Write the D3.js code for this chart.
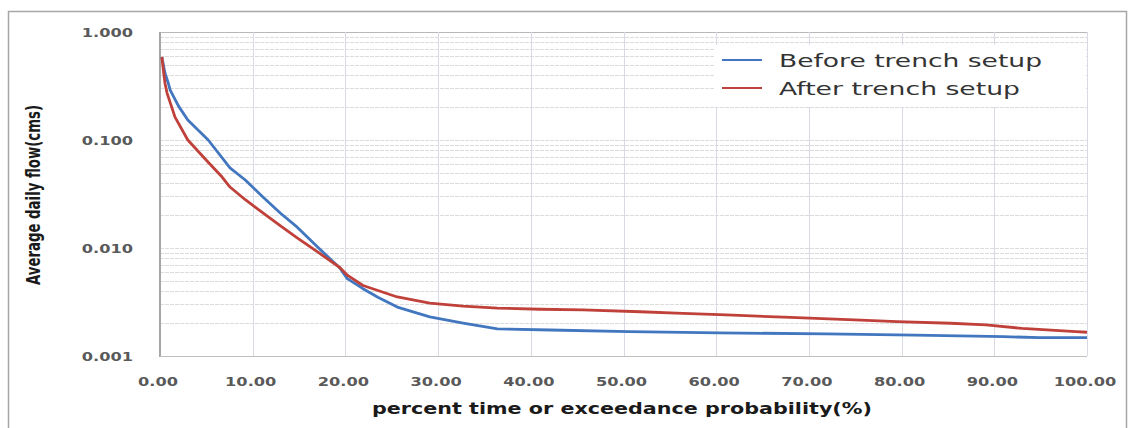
<!DOCTYPE html>
<html><head><meta charset="utf-8">
<script src="https://cdn.jsdelivr.net/npm/d3@7"></script>
<style>body{margin:0;background:#fff}svg{display:block}</style>
</head><body><svg id="c" width="1130" height="428"></svg>
<script>
const xTicks = [0,10,20,30,40,50,60,70,80,90,100];
const yTicks = [1,0.1,0.01,0.001];
const seriesNames = ["Before trench setup","After trench setup"];
const xTitle = "percent time or exceedance probability(%)";
const yTitle = "Average daily flow(cms)";

const beforeP = [0.2,0.54,0.9,1.1,2.0,3.0,5.2,7.55,9.2,11.1,13.0,14.8,17.0,19.4,20.2,21.9,23.5,25.6,29.1,32.7,36.4,42.1,50.6,60.3,71.8,81.4,91.0,94.9,100];
const beforeQ = [0.587,0.415,0.335,0.29,0.206,0.153,0.100,0.0551,0.0426,0.0297,0.021,0.0156,0.0102,0.00653,0.0052,0.0042,0.0035,0.00284,0.0023,0.00202,0.00178,0.00174,0.00168,0.00164,0.0016,0.00156,0.00151,0.00148,0.00148];
const afterP = [0.2,0.36,0.54,0.76,1.62,3.0,5.0,6.7,7.55,9.2,11.1,13.0,14.8,17.0,19.4,20.2,21.9,25.6,29.1,32.7,36.4,41.0,45.6,51.8,56.4,61.1,68.0,75.6,79.5,85.3,89.1,93.0,98.8,100];
const afterQ = [0.587,0.445,0.335,0.272,0.163,0.100,0.065,0.0454,0.0367,0.028,0.0211,0.016,0.0124,0.0092,0.0066,0.0056,0.0045,0.00352,0.00309,0.0029,0.00278,0.00271,0.00267,0.00257,0.00248,0.0024,0.00228,0.00215,0.00208,0.00201,0.00194,0.0018,0.00168,0.00166];

const colors = ["#4277c0","#c0403a"];
const svg = d3.select("#c");
const L = 160, R = 1087, T = 32, B = 356;
const x = d3.scaleLinear().domain([0,100]).range([L,R]);
const y = d3.scaleLog().domain([0.001,1]).range([B,T]);

// outer frame
svg.append("rect").attr("x",8.5).attr("y",11.5).attr("width",1118).attr("height",440)
  .attr("fill","#fff").attr("stroke","#a6a6a6").attr("stroke-width",1.5);

// horizontal grid
const hgrid = [];
[0.001,0.01,0.1].forEach(d => { for (let k=1;k<=9;k++) hgrid.push(k*d); });
hgrid.push(1);
svg.append("g").selectAll("line").data(hgrid).join("line")
  .attr("x1",L).attr("x2",R).attr("y1",d=>Math.round(y(d))+0.5).attr("y2",d=>Math.round(y(d))+0.5)
  .attr("stroke",d=>d===1?"#b8b8b8":"#dcdcdc").attr("stroke-width",1)
  .attr("stroke-dasharray",d=>d===1?null:"4,1");

// vertical grid
svg.append("g").selectAll("line").data(xTicks.slice(1)).join("line")
  .attr("x1",d=>Math.round(x(d))+0.5).attr("x2",d=>Math.round(x(d))+0.5).attr("y1",T).attr("y2",B)
  .attr("stroke","#d8dbe6").attr("stroke-width",1);

// axes lines
svg.append("line").attr("x1",L).attr("x2",L).attr("y1",T).attr("y2",B+1).attr("stroke","#a6a6a6").attr("stroke-width",2);
svg.append("line").attr("x1",L).attr("x2",R).attr("y1",B+0.5).attr("y2",B+0.5).attr("stroke","#bfbfbf").attr("stroke-width",1);

// tick labels
const tickFont = "'DejaVu Sans', Verdana, sans-serif";
svg.append("g").selectAll("text").data(yTicks).join("text")
  .attr("transform",d=>`translate(133,${y(d)+4.5}) scale(1.35,1)`)
  .attr("text-anchor","end").attr("font-family",tickFont).attr("font-weight","bold")
  .attr("font-size",12).attr("fill","#595959").text(d3.format(".3f"));
svg.append("g").selectAll("text").data(xTicks).join("text")
  .attr("transform",d=>`translate(${x(d)-2},386) scale(1.35,1)`)
  .attr("text-anchor","middle").attr("font-family",tickFont).attr("font-weight","bold")
  .attr("font-size",12).attr("fill","#595959").text(d3.format(".2f"));

// titles
svg.append("text").attr("x",622).attr("y",414).attr("text-anchor","middle")
  .attr("font-family",tickFont).attr("font-weight","bold").attr("font-size",15)
  .attr("fill","#1a1a1a").attr("textLength",500).attr("lengthAdjust","spacingAndGlyphs").text(xTitle);
svg.append("g").attr("transform","translate(40,195) scale(1.3,1) rotate(-90)")
  .append("text").attr("x",0).attr("y",0).attr("text-anchor","middle")
  .attr("font-family","'Liberation Sans Narrow','DejaVu Sans Condensed',Arial,sans-serif").attr("font-weight","bold").attr("font-size",15)
  .attr("fill","#1a1a1a").attr("textLength",180).attr("lengthAdjust","spacingAndGlyphs").text(yTitle);

// lines
const line = d3.line().x(d=>x(d[0])).y(d=>y(d[1]));
const series = [d3.zip(beforeP,beforeQ), d3.zip(afterP,afterQ)];
svg.append("g").selectAll("path").data(series).join("path")
  .attr("d",line).attr("fill","none").attr("stroke",(d,i)=>colors[i]).attr("stroke-width",2.8)
  .attr("stroke-linejoin","round");

// legend
svg.append("rect").attr("x",715).attr("y",45).attr("width",371).attr("height",62).attr("fill","#fff");
const lg = svg.append("g").selectAll("g").data(seriesNames).join("g")
  .attr("transform",(d,i)=>`translate(722,${60+i*28})`);
lg.append("line").attr("x1",0).attr("x2",40).attr("y1",0).attr("y2",0)
  .attr("stroke",(d,i)=>colors[i]).attr("stroke-width",2);
lg.append("text").attr("x",57).attr("y",6.5).attr("font-family",tickFont).attr("font-size",18)
  .attr("fill","#333").attr("textLength",(d,i)=>i===0?263:241).attr("lengthAdjust","spacingAndGlyphs").text(d=>d);
</script>
</body></html>
